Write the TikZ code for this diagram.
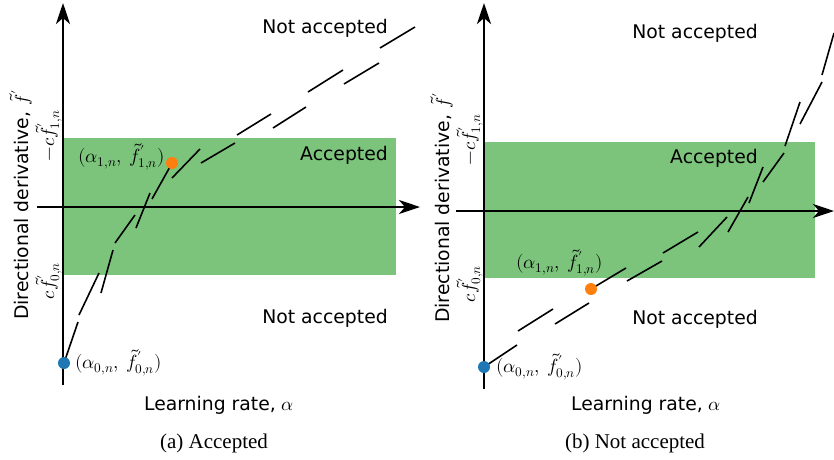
\documentclass[tikz,border=0pt]{standalone}
\usepackage{fontspec}
\usepackage{unicode-math}
\setmainfont{Liberation Serif}
\setmathfont{Latin Modern Math}
\newfontfamily\lblfont{DejaVu Sans}
\usetikzlibrary{arrows.meta}
\definecolor{accgreen}{RGB}{124,196,124}
\definecolor{mplblue}{RGB}{31,119,180}
\definecolor{mplorange}{RGB}{255,127,14}
\tikzset{
  axisline/.style={line width=2.8pt,-{Stealth[length=21pt,width=14pt,inset=6pt]}},
  dashseg/.style={line width=1.6pt},
  lbl/.style={font=\lblfont\fontsize{18.8}{22}\selectfont,inner sep=0pt},
  mathlbl/.style={font=\fontsize{18.8}{22}\selectfont,inner sep=0pt},
  ptlbl/.style={font=\fontsize{19}{23}\selectfont,inner sep=0pt},
  caplbl/.style={font=\fontsize{21}{25}\selectfont,inner sep=0pt},
  dot/.style={circle,inner sep=0pt,minimum size=12pt,draw=none},
  zone/.style={fill=accgreen,draw=none},
}
\begin{document}
\begin{tikzpicture}[x=1pt,y=-1pt]
\useasboundingbox (0,0) rectangle (834,459);
% ---------------- panel (a) ----------------
\fill[zone] (63,138) rectangle (396,275);
\coordinate (ya0) at (63,385); \coordinate (ya1) at (63,3);
\coordinate (xa0) at (37,207); \coordinate (xa1) at (420,207);
\draw[axisline] (ya0) -- (ya1);
\draw[axisline] (xa0) -- (xa1);
\draw[dashseg] (64,363)--(78,322) (79,315)--(99,273) (101,293)--(113,250)
  (115,243)--(135,215) (136,228)--(150,193) (152,199)--(171,165)
  (172,178)--(200,149) (201,163)--(235,143) (237,135)--(271,114)
  (273,128)--(306,107) (308,92)--(343,70) (344,84)--(379,63) (380,48)--(415,27);
\node[dot,fill=mplblue] (p0a) at (64,363) {};
\node[dot,fill=mplorange] (p1a) at (172,163) {};
\node[lbl,anchor=base east] (na1) at (388,33) {Not accepted};
\node[lbl,anchor=base east] (acca) at (388,160) {Accepted};
\node[lbl,anchor=base east] (na2) at (388,323) {Not accepted};
\node[ptlbl,anchor=base west] (l1a) at (78,162) {$(\alpha_{1,n},\:\tilde{f}'_{1,n})$};
\node[ptlbl,anchor=base west] (l0a) at (75,368) {$(\alpha_{0,n},\:\tilde{f}'_{0,n})$};
\node[lbl,anchor=base] (xla) at (219,410) {Learning rate, $\alpha$};
\node[lbl,anchor=base west,rotate=90] (yla) at (28,320) {Directional derivative, $\tilde{f}'$};
\node[mathlbl,anchor=south,rotate=90] (t1a) at (62,136) {$-c\tilde{f}'_{1,n}$};
\node[mathlbl,anchor=south,rotate=90] (t0a) at (62,281) {$c\tilde{f}'_{0,n}$};
\node[caplbl,anchor=base] (capa) at (214,448) {(a) Accepted};
% ---------------- panel (b) ----------------
\fill[zone] (484,142) rectangle (815,278);
\coordinate (yb0) at (484,389); \coordinate (yb1) at (484,3);
\coordinate (xb0) at (456,211); \coordinate (xb1) at (834,211);
\draw[axisline] (yb0) -- (yb1);
\draw[axisline] (xb0) -- (xb1);
\draw[dashseg] (484,367)--(517,345) (518,331)--(553,309) (555,324)--(589,303)
  (591,289)--(626,268) (627,281)--(662,261) (663,253)--(698,232)
  (699,247)--(727,217) (728,232)--(748,197) (749,203)--(763,167)
  (763,182)--(784,153) (785,146)--(800,102) (800,124)--(822,82) (822,75)--(834,33);
\node[dot,fill=mplblue] (p0b) at (484,367) {};
\node[dot,fill=mplorange] (p1b) at (591,289) {};
\node[lbl,anchor=base east] (nb1) at (758,38) {Not accepted};
\node[lbl,anchor=base east] (accb) at (758,163) {Accepted};
\node[lbl,anchor=base east] (nb2) at (758,324) {Not accepted};
\node[ptlbl,anchor=base west] (l1b) at (516,268) {$(\alpha_{1,n},\:\tilde{f}'_{1,n})$};
\node[ptlbl,anchor=base west] (l0b) at (496,372) {$(\alpha_{0,n},\:\tilde{f}'_{0,n})$};
\node[lbl,anchor=base] (xlb) at (646,410) {Learning rate, $\alpha$};
\node[lbl,anchor=base west,rotate=90] (ylb) at (449,323) {Directional derivative, $\tilde{f}'$};
\node[mathlbl,anchor=south,rotate=90] (t1b) at (483,140) {$-c\tilde{f}'_{1,n}$};
\node[mathlbl,anchor=south,rotate=90] (t0b) at (483,284) {$c\tilde{f}'_{0,n}$};
\node[caplbl,anchor=base] (capb) at (635,448) {(b) Not accepted};
\end{tikzpicture}
\end{document}
